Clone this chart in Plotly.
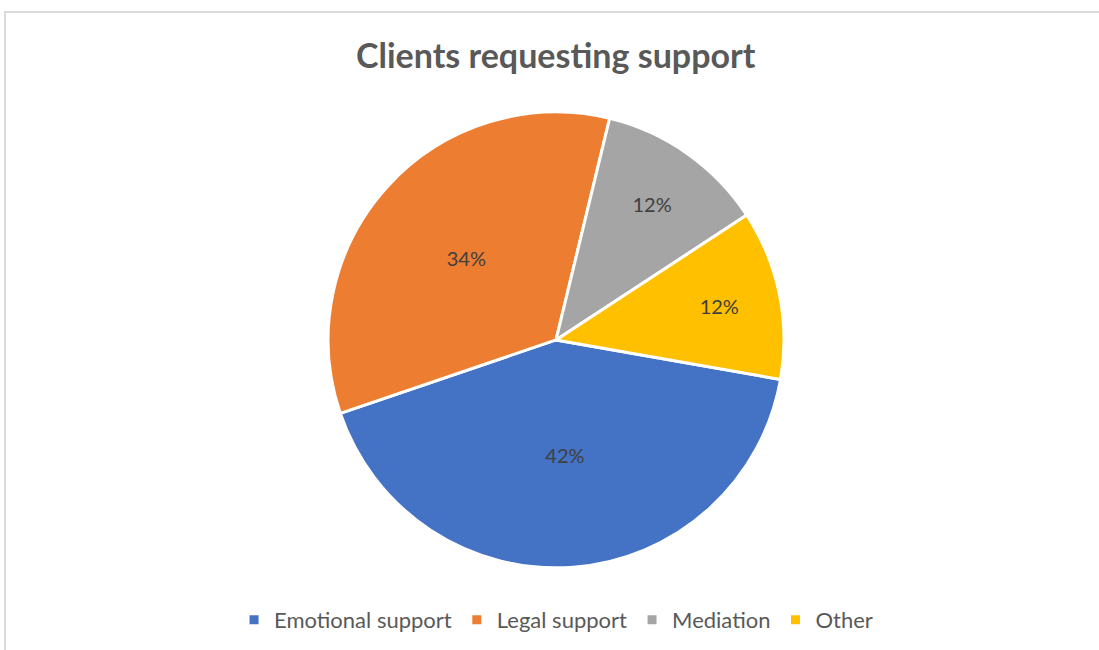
import plotly.graph_objects as go

categories = ["Emotional support", "Legal support", "Mediation", "Other"]
values = [42, 34, 12, 12]
colors = ["#4472C4", "#ED7D31", "#A5A5A5", "#FFC000"]

fig = go.Figure(go.Pie(
    labels=categories,
    values=values,
    sort=False,
    direction="clockwise",
    rotation=100,
    marker=dict(colors=colors, line=dict(color="white", width=3)),
    textinfo="percent",
    texttemplate="%{percent:.0%}",
    textposition="inside",
    insidetextorientation="horizontal",
    textfont=dict(family="Lato", size=20, color="#404040"),
    domain=dict(x=[0.1037, 0.9037], y=[0.1288, 0.8433]),
    hole=0,
))

fig.update_layout(
    width=1099, height=650,
    margin=dict(l=5, r=0, t=12, b=0),
    paper_bgcolor="white",
    font=dict(family="Lato", color="#595959"),
    showlegend=True,
    legend=dict(orientation="h", x=0.5037, xanchor="center", y=0.047, yanchor="middle",
                font=dict(family="Lato", size=22, color="#595959"),
                traceorder="normal", itemwidth=30),
    annotations=[dict(text="<b>Clients requesting support</b>", x=0.5037, y=1 - (55 - 12) / 638,
                      xref="paper", yref="paper", xanchor="center", yanchor="middle",
                      showarrow=False, font=dict(family="Lato", size=34, color="#595959"))],
    shapes=[dict(type="rect", xref="paper", yref="paper", x0=0, y0=-0.05, x1=1.05, y1=1,
                 line=dict(color="#D9D9D9", width=2), fillcolor="rgba(0,0,0,0)")],
)

fig.write_html("out.html", config={"displayModeBar": False},
               post_script="document.body.style.margin='0';document.body.style.overflow='hidden';")
